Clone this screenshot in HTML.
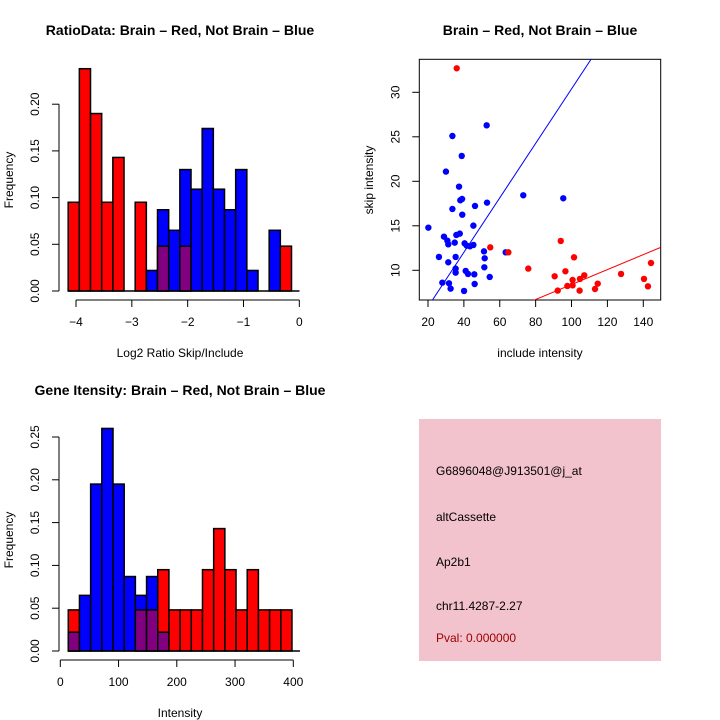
<!DOCTYPE html>
<html><head><meta charset="utf-8"><style>
body{margin:0;background:#fff}
svg{display:block;font-family:"Liberation Sans",sans-serif}
</style></head><body>
<svg id="c" width="720" height="720">
<rect x="0" y="0" width="720" height="720" fill="#fff"/>
<text x="180" y="35" font-size="14" font-weight="bold" text-anchor="middle">RatioData: Brain – Red, Not Brain – Blue</text>
<text x="540" y="35" font-size="14" font-weight="bold" text-anchor="middle">Brain – Red, Not Brain – Blue</text>
<text x="180" y="395" font-size="14" font-weight="bold" text-anchor="middle">Gene Itensity: Brain – Red, Not Brain – Blue</text>
<text x="180" y="357" font-size="12" text-anchor="middle">Log2 Ratio Skip/Include</text>
<text transform="translate(13,180) rotate(-90)" font-size="12" text-anchor="middle">Frequency</text>
<text x="540" y="357" font-size="12" text-anchor="middle">include intensity</text>
<text transform="translate(373,180) rotate(-90)" font-size="12" text-anchor="middle">skip intensity</text>
<text x="180" y="717" font-size="12" text-anchor="middle">Intensity</text>
<text transform="translate(13,540) rotate(-90)" font-size="12" text-anchor="middle">Frequency</text>
<g>
<rect x="419" y="419" width="242" height="242" fill="#f2c2cd"/>
<text x="436" y="475" font-size="12">G6896048@J913501@j_at</text>
<text x="436" y="521" font-size="12">altCassette</text>
<text x="436" y="566" font-size="12">Ap2b1</text>
<text x="436" y="610" font-size="12">chr11.4287-2.27</text>
<text x="436" y="642" font-size="12" fill="#a00000">Pval: 0.000000</text>
</g>
</svg>
<script>
// Ratio histogram data
const ratioStart = -4.14, ratioWidth = 0.2;
const ratioRed = [0.095,0.238,0.190,0.095,0.143,0,0.095,0,0.048,0,0.048,0,0,0,0,0,0,0,0,0.048];
const ratioBlue = [0,0,0,0,0,0,0,0.022,0.087,0.065,0.130,0.109,0.174,0.109,0.087,0.130,0.022,0,0.065,0];
const ratioXTicks = [-4,-3,-2,-1,0];
const ratioYTicks = ["0.00","0.05","0.10","0.15","0.20"];
// Intensity histogram data
const intStart = 13.7, intWidth = 19.2;
const intRed = [0.048,0,0,0,0,0,0.048,0.048,0.095,0.048,0.048,0.048,0.095,0.143,0.095,0.048,0.095,0.048,0.048,0.048];
const intBlue = [0.022,0.065,0.195,0.26,0.195,0.087,0.065,0.087,0.022,0,0,0,0,0,0,0,0,0,0,0];
const intXTicks = [0,100,200,300,400];
const intYTicks = ["0.00","0.05","0.10","0.15","0.20","0.25"];
// Scatter data
const blueX = [20.2,26.1,28.0,28.9,30.0,30.8,31.3,31.3,31.7,32.6,33.6,33.6,34.9,35.4,35.4,35.4,35.8,37.3,37.7,38.0,38.8,39.0,39.1,40.1,40.4,41.0,41.6,42.3,43.4,45.3,45.3,45.8,46.2,46.0,51.2,51.6,51.4,52.7,52.9,54.4,63.3,73.1,95.4];
const blueY = [14.79,11.50,8.61,13.78,21.09,13.33,12.92,10.90,8.54,7.94,25.09,16.89,13.11,11.50,10.19,9.74,13.97,19.40,14.12,17.87,22.85,18.01,16.25,7.68,13.03,9.93,12.77,9.59,12.70,12.85,15.02,9.55,17.23,8.46,12.13,11.35,10.34,26.29,17.60,9.25,12.02,18.43,18.09];
const redX = [36.0,54.7,64.8,75.9,90.6,92.3,94.0,96.6,97.7,100.6,101.4,100.6,104.5,104.7,107.1,113.1,114.6,127.6,140.4,142.6,144.3];
const redY = [32.70,12.58,12.02,10.19,9.33,7.72,13.30,9.89,8.24,8.91,11.46,8.31,7.72,9.03,9.44,7.90,8.50,9.59,9.03,8.20,10.82];
const blueLine = [-0.22,0.306];
const redLine = [0.0,0.084];
const scXTicks = [20,40,60,80,100,120,140];
const scYTicks = [10,15,20,25,30];

const svg = document.getElementById('c');
const NS = 'http://www.w3.org/2000/svg';
function mk(tag, attrs, parent){const e=document.createElementNS(NS,tag);for(const k in attrs)e.setAttribute(k,attrs[k]);(parent||svg).appendChild(e);return e;}

function hist(cfg){
  const g = mk('g',{});
  
  
  const sx = v => cfg.x0px + (v - cfg.x0) * cfg.xs;
  const sy = v => cfg.y0px - v * cfg.ys;
  cfg.red.forEach((r,i)=>{
    const b = cfg.blue[i];
    const l = sx(cfg.start + i*cfg.width), w = cfg.width*cfg.xs;
    const hi = Math.max(r,b);
    if (hi<=0) return;
    const col = r>=b ? '#ff0000' : '#0000ff';
    const rc = mk('rect',{x:l,y:sy(hi),width:w,height:sy(0)-sy(hi),fill:col,stroke:'#000','stroke-width':1.5},g);
    
    
    const lo = Math.min(r,b);
    if (lo>0){
      const pr = mk('rect',{x:l,y:sy(lo),width:w,height:sy(0)-sy(lo),fill:'#800080',stroke:'#000','stroke-width':1.5},g);
      
      
    }
  });
  mk('line',{x1:sx(cfg.start),x2:sx(cfg.start+cfg.red.length*cfg.width)+8,y1:sy(0),y2:sy(0),stroke:'#000','stroke-width':1.5},g);
  const yv = cfg.yTicks.map(Number);
  const ya = mk('g',{},g);
  
  
  mk('line',{x1:cfg.axX,x2:cfg.axX,y1:sy(yv[0]),y2:sy(yv[yv.length-1]),stroke:'#000'},ya);
  cfg.yTicks.forEach(t=>{
    const y=sy(+t);
    mk('line',{x1:cfg.axX-7,x2:cfg.axX,y1:y,y2:y,stroke:'#000'},ya);
    const tx=mk('text',{transform:`translate(${cfg.axX-20},${y}) rotate(-90)`,'font-size':12,'text-anchor':'middle'},ya);
    tx.textContent=t;
  });
  const xa = mk('g',{},g);
  
  
  const xt=cfg.xTicks;
  mk('line',{x1:sx(xt[0]),x2:sx(xt[xt.length-1]),y1:cfg.axY,y2:cfg.axY,stroke:'#000'},xa);
  xt.forEach(t=>{
    const x=sx(t);
    mk('line',{x1:x,x2:x,y1:cfg.axY,y2:cfg.axY+7,stroke:'#000'},xa);
    const tx=mk('text',{x:x,y:cfg.axY+26,'font-size':12,'text-anchor':'middle'},xa);
    tx.textContent=t<0?'\u2212'+(-t):String(t);
  });
}
hist({name:'ratio-histogram',start:ratioStart,width:ratioWidth,red:ratioRed,blue:ratioBlue,
  x0:-4,x0px:76,xs:55.83,y0px:291,ys:934,axX:59,axY:300,yTicks:ratioYTicks,xTicks:ratioXTicks});
hist({name:'intensity-histogram',start:intStart,width:intWidth,red:intRed,blue:intBlue,
  x0:0,x0px:60.3,xs:0.5825,y0px:651,ys:856,axX:59,axY:660,yTicks:intYTicks,xTicks:intXTicks});

(function(){
  const g = mk('g',{});
  
  
  const L=419.3,R=660.7,T=59.3,B=300;
  const sx = v => 428 + (v-20)*1.794;
  const sy = v => 270.3 - (v-10)*8.9;
  const ix = x => (x-428)/1.794+20;
  const fr = mk('rect',{x:L,y:T,width:R-L,height:B-T,fill:'none',stroke:'#000'},g);
  
  
  const clip = mk('clipPath',{id:'scclip'},g);
  mk('rect',{x:L,y:T,width:R-L,height:B-T},clip);
  const lg = mk('g',{'clip-path':'url(#scclip)'},g);
  [[blueLine,'#0000ff','blue-fit-line'],[redLine,'#ff0000','red-fit-line']].forEach(([p,c,n])=>{
    const x1=ix(L), x2=ix(R);
    const ln = mk('line',{x1:L,x2:R,y1:sy(p[0]+p[1]*x1),y2:sy(p[0]+p[1]*x2),stroke:c,'stroke-width':1},lg);
    
    
  });
  blueX.forEach((x,i)=>{
    const c=mk('circle',{cx:sx(x),cy:sy(blueY[i]),r:3.2,fill:'#0000ff'},lg);
    
    
  });
  redX.forEach((x,i)=>{
    const c=mk('circle',{cx:sx(x),cy:sy(redY[i]),r:3.2,fill:'#ff0000'},lg);
    
    
  });
  scXTicks.forEach(t=>{
    const x=sx(t);
    mk('line',{x1:x,x2:x,y1:B,y2:B+7,stroke:'#000'},g);
    const tx=mk('text',{x:x,y:B+26,'font-size':12,'text-anchor':'middle'},g);
    
    
    tx.textContent=t;
  });
  scYTicks.forEach(t=>{
    const y=sy(t);
    mk('line',{x1:L-7,x2:L,y1:y,y2:y,stroke:'#000'},g);
    const tx=mk('text',{transform:`translate(${L-20},${y}) rotate(-90)`,'font-size':12,'text-anchor':'middle'},g);
    
    
    tx.textContent=t;
  });
})();
</script>
</body></html>
